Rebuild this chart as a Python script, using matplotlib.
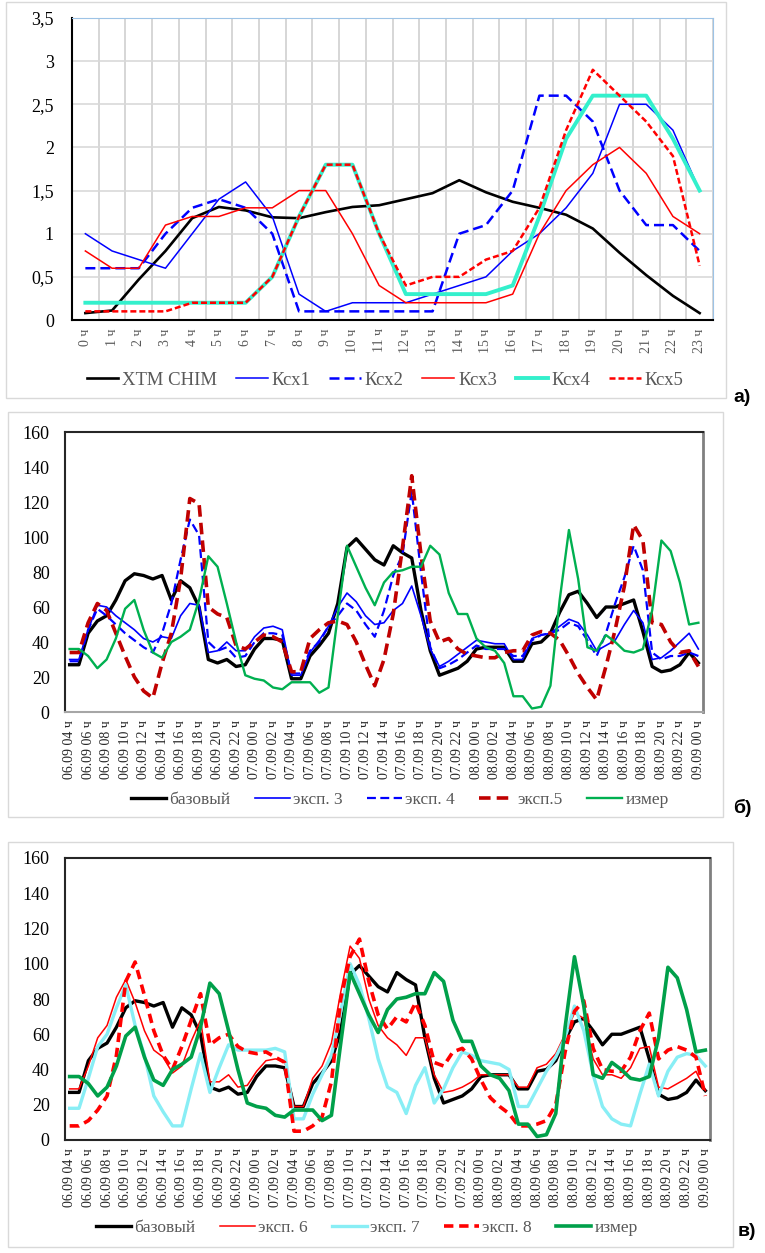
import numpy as np
import matplotlib.pyplot as plt
from matplotlib.patches import Rectangle

plt.rcParams['font.family'] = ['Liberation Serif', 'DejaVu Serif']

W, H = 765, 1253

# ---- panel a: hourly coefficients ----
hours_a = ['0 ч', '1 ч', '2 ч', '3 ч', '4 ч', '5 ч', '6 ч', '7 ч', '8 ч', '9 ч', '10 ч', '11 ч',
           '12 ч', '13 ч', '14 ч', '15 ч', '16 ч', '17 ч', '18 ч', '19 ч', '20 ч', '21 ч', '22 ч', '23 ч']
yticks_a = [0, 0.5, 1, 1.5, 2, 2.5, 3, 3.5]
ylabels_a = ['0', '0,5', '1', '1,5', '2', '2,5', '3', '3,5']
htm = [0.08, 0.11, 0.47, 0.8, 1.18, 1.31, 1.27, 1.19, 1.18, 1.25, 1.31, 1.33,
       1.4, 1.47, 1.62, 1.48, 1.37, 1.3, 1.22, 1.06, 0.78, 0.52, 0.28, 0.08]
ksx1 = [1.0, 0.8, 0.7, 0.6, 1.0, 1.4, 1.6, 1.2, 0.3, 0.1, 0.2, 0.2,
        0.2, 0.3, 0.4, 0.5, 0.8, 1.0, 1.3, 1.7, 2.5, 2.5, 2.2, 1.5]
ksx2 = [0.6, 0.6, 0.6, 1.0, 1.3, 1.4, 1.3, 1.0, 0.1, 0.1, 0.1, 0.1,
        0.1, 0.1, 1.0, 1.1, 1.5, 2.6, 2.6, 2.3, 1.5, 1.1, 1.1, 0.8]
ksx3 = [0.8, 0.6, 0.6, 1.1, 1.2, 1.2, 1.3, 1.3, 1.5, 1.5, 1.0, 0.4,
        0.2, 0.2, 0.2, 0.2, 0.3, 1.0, 1.5, 1.8, 2.0, 1.7, 1.2, 1.0]
ksx4 = [0.2, 0.2, 0.2, 0.2, 0.2, 0.2, 0.2, 0.5, 1.2, 1.8, 1.8, 1.0,
        0.3, 0.3, 0.3, 0.3, 0.4, 1.2, 2.1, 2.6, 2.6, 2.6, 2.1, 1.5]
ksx5 = [0.1, 0.1, 0.1, 0.1, 0.2, 0.2, 0.2, 0.5, 1.2, 1.8, 1.8, 1.0,
        0.4, 0.5, 0.5, 0.7, 0.8, 1.3, 2.2, 2.9, 2.6, 2.3, 1.9, 0.63]

# ---- panels b, c: hourly series 06.09 04 ч .. 09.09 00 ч ----
time_labels = ['06.09 04 ч', '06.09 06 ч', '06.09 08 ч', '06.09 10 ч', '06.09 12 ч', '06.09 14 ч',
               '06.09 16 ч', '06.09 18 ч', '06.09 20 ч', '06.09 22 ч',
               '07.09 00 ч', '07.09 02 ч', '07.09 04 ч', '07.09 06 ч', '07.09 08 ч', '07.09 10 ч',
               '07.09 12 ч', '07.09 14 ч', '07.09 16 ч', '07.09 18 ч', '07.09 20 ч', '07.09 22 ч',
               '08.09 00 ч', '08.09 02 ч', '08.09 04 ч', '08.09 06 ч', '08.09 08 ч', '08.09 10 ч',
               '08.09 12 ч', '08.09 14 ч', '08.09 16 ч', '08.09 18 ч', '08.09 20 ч', '08.09 22 ч',
               '09.09 00 ч']
yticks_bc = [0, 20, 40, 60, 80, 100, 120, 140, 160]

base = [27, 27, 45, 52, 55, 64, 75, 79, 78, 76, 78, 64, 75, 71, 60, 30, 28, 30, 26, 27,
        36, 42, 42, 41, 19, 19, 32, 38, 45, 62, 94, 99, 93, 87, 84, 95, 91, 88, 58, 35,
        21, 23, 25, 29, 36, 37, 37, 37, 29, 29, 39, 40, 45, 57, 67, 69, 62, 54, 60, 60,
        62, 64, 46, 26, 23, 24, 27, 34, 28]
meas = [36, 36, 32, 25, 30, 42, 59, 64, 47, 34, 31, 40, 43, 47, 64, 89, 83, 62, 40, 21,
        19, 18, 14, 13, 17, 17, 17, 11, 14, 55, 95, 83, 71, 61, 74, 80, 81, 83, 83, 95,
        90, 68, 56, 56, 42, 37, 35, 28, 9, 9, 2, 3, 15, 64, 104, 76, 37, 35, 44, 40,
        35, 34, 36, 58, 98, 92, 74, 50, 51]
exp3 = [30, 30, 47, 61, 60, 55, 51, 47, 42, 40, 43, 42, 55, 62, 61, 34, 35, 40, 35, 35,
        43, 48, 49, 47, 21, 21, 34, 41, 49, 60, 68, 63, 55, 50, 51, 58, 62, 72, 55, 36,
        26, 29, 33, 37, 41, 40, 39, 39, 30, 30, 42, 44, 45, 49, 53, 51, 44, 35, 38, 41,
        50, 58, 51, 30, 31, 35, 40, 45, 36]
exp4 = [29, 29, 47, 59, 55, 50, 45, 41, 37, 34, 45, 62, 87, 110, 101, 40, 35, 37, 31, 32,
        40, 45, 45, 44, 22, 22, 35, 40, 49, 55, 62, 58, 50, 43, 58, 78, 90, 126, 80, 37,
        25, 27, 30, 34, 38, 36, 36, 36, 32, 32, 41, 44, 45, 47, 51, 49, 41, 32, 45, 62,
        77, 95, 81, 34, 30, 32, 32, 34, 32]
exp5 = [34, 34, 51, 62, 58, 45, 32, 20, 12, 8, 28, 45, 76, 122, 119, 60, 56, 54, 38, 36,
        40, 44, 43, 40, 23, 23, 42, 47, 51, 52, 50, 40, 27, 15, 30, 56, 94, 135, 90, 52,
        40, 42, 36, 33, 32, 31, 31, 34, 35, 35, 44, 46, 45, 41, 32, 22, 14, 7, 26, 47,
        72, 107, 98, 51, 50, 40, 34, 35, 26]
exp6 = [29, 29, 42, 58, 65, 81, 91, 78, 62, 51, 47, 38, 42, 56, 68, 33, 33, 37, 30, 31,
        39, 45, 46, 45, 19, 19, 35, 42, 55, 84, 110, 103, 80, 65, 58, 54, 48, 58, 58, 37,
        27, 28, 30, 33, 37, 37, 37, 37, 30, 30, 41, 43, 49, 60, 72, 69, 46, 37, 37, 35,
        41, 52, 53, 30, 29, 32, 35, 39, 28]
exp7 = [18, 18, 35, 53, 60, 75, 88, 65, 48, 25, 16, 8, 8, 29, 49, 27, 41, 54, 51, 51,
        51, 51, 52, 50, 12, 12, 26, 37, 48, 73, 100, 88, 69, 46, 30, 27, 15, 31, 41, 21,
        29, 41, 50, 48, 45, 44, 43, 40, 19, 19, 29, 39, 47, 58, 76, 62, 37, 19, 12, 9,
        8, 26, 43, 25, 39, 47, 49, 48, 42]
exp8 = [8, 8, 11, 17, 25, 48, 90, 101, 82, 62, 48, 40, 53, 68, 83, 54, 58, 60, 53, 50,
        49, 50, 47, 44, 5, 5, 8, 13, 33, 80, 104, 114, 90, 71, 63, 70, 67, 78, 65, 44,
        42, 50, 52, 46, 34, 24, 19, 15, 8, 8, 9, 11, 20, 50, 73, 79, 52, 40, 39, 39,
        47, 62, 72, 46, 51, 53, 51, 47, 25]

fig = plt.figure(figsize=(W / 100, H / 100), dpi=100)


def px_axes(left, top, right, bottom):
    return fig.add_axes([left / W, 1 - bottom / H, (right - left) / W, (bottom - top) / H])


def px_frame(left, top, right, bottom):
    fig.add_artist(Rectangle((left / W, 1 - bottom / H), (right - left) / W, (bottom - top) / H,
                             transform=fig.transFigure, fill=False, ec='#D9D9D9', lw=1))


def panel_label(x, y, s):
    fig.text(x / W, 1 - y / H, s, family='Liberation Sans', fontweight='bold', fontsize=14,
             ha='left', va='center')


# ---------- a) ----------
px_frame(6, 2, 726, 398)
ax = px_axes(72, 18, 713, 320)
xa = np.arange(len(hours_a))
ax.plot(xa, htm, color='black', lw=1.9, label='ХТМ СНІМ')
ax.plot(xa, ksx1, color='#0000FF', lw=1.1, label='Ксх1')
ax.plot(xa, ksx2, color='#0000FF', lw=1.8, ls=(0, (4, 2)), label='Ксх2')
ax.plot(xa, ksx3, color='#FF0000', lw=1.1, label='Ксх3')
ax.plot(xa, ksx4, color='#33F0CC', lw=2.8, label='Ксх4')
ax.plot(xa, ksx5, color='#FF0000', lw=1.8, ls=(0, (2.4, 1.2)), label='Ксх5')
ax.set_xlim(-0.5, len(hours_a) - 0.5)
ax.set_ylim(0, 3.5)
ax.set_yticks(yticks_a)
ax.set_yticklabels(ylabels_a, fontsize=13)
ax.set_xticks(xa)
ax.set_xticklabels(hours_a, rotation=90, fontsize=10, color='#595959')
ax.set_xticks(np.arange(-0.5, len(hours_a)), minor=True)
ax.tick_params(which='both', length=0)
ax.tick_params(axis='y', pad=13)
ax.tick_params(axis='x', pad=6)
ax.grid(which='minor', axis='x', color='#D0D0D0', lw=1.2)
ax.grid(which='major', axis='y', color='#D9D9D9', lw=1.2)
ax.set_axisbelow(True)
for side in ['top', 'right']:
    ax.spines[side].set_color('#9DC3E6')
for side in ['left', 'bottom']:
    ax.spines[side].set_color('black')
    ax.spines[side].set_linewidth(1.5)
ax.legend(loc='center', bbox_to_anchor=(385 / W, 1 - 380 / H), bbox_transform=fig.transFigure,
          ncol=6, frameon=False, fontsize=13.5, handlelength=1.7, handletextpad=0.2,
          columnspacing=1.0, labelcolor='#595959')
panel_label(733, 398, 'а)')

# ---------- б) ----------
px_frame(8, 412, 723, 817)
ax = px_axes(65, 432, 703, 712)
xb = np.arange(len(base))
ax.plot(xb, base, color='black', lw=2.4, label='базовый')
ax.plot(xb, exp3, color='#0000FF', lw=1.2, label='эксп. 3')
ax.plot(xb, exp4, color='#0000FF', lw=1.6, ls=(0, (4, 2)), label='эксп. 4')
ax.plot(xb, exp5, color='#C00000', lw=2.6, ls=(0, (3.2, 1.7)), label='эксп.5')
ax.plot(xb, meas, color='#00B050', lw=1.7, label='измер')
ax.set_xlim(-0.5, len(base) - 0.5)
ax.set_ylim(0, 160)
ax.set_yticks(yticks_bc)
ax.tick_params(axis='y', labelsize=13, pad=11)
ax.set_xticks(xb[::2])
ax.set_xticklabels(time_labels, rotation=90, fontsize=10, color='#262626')
ax.tick_params(which='both', length=0)
ax.tick_params(axis='x', pad=6)
for side in ['left', 'top']:
    ax.spines[side].set_color('#262626')
    ax.spines[side].set_linewidth(1.5)
ax.spines['right'].set_color('#808080')
ax.spines['right'].set_linewidth(2)
ax.spines['bottom'].set_color('#A6A6A6')
ax.spines['bottom'].set_linewidth(1.5)
ax.legend(loc='center', bbox_to_anchor=(400 / W, 1 - 800 / H), bbox_transform=fig.transFigure,
          ncol=5, frameon=False, fontsize=12.5, handlelength=2.0, handletextpad=0.2,
          columnspacing=1.4, labelcolor='#595959')
panel_label(733, 808, 'б)')

# ---------- в) ----------
px_frame(8, 842, 733, 1247)
ax = px_axes(65, 858, 710, 1140)
ax.plot(xb, base, color='black', lw=2.4, label='базовый')
ax.plot(xb, exp6, color='#FF0000', lw=1.1, label='эксп. 6')
ax.plot(xb, exp7, color='#88EEF5', lw=2.4, label='эксп. 7')
ax.plot(xb, exp8, color='#FF0000', lw=2.6, ls=(0, (2.6, 1.6)), label='эксп. 8')
ax.plot(xb, meas, color='#00A04A', lw=2.6, label='измер')
ax.set_xlim(-0.5, len(base) - 0.5)
ax.set_ylim(0, 160)
ax.set_yticks(yticks_bc)
ax.tick_params(axis='y', labelsize=13, pad=11)
ax.set_xticks(xb[::2])
ax.set_xticklabels(time_labels, rotation=90, fontsize=10, color='#262626')
ax.tick_params(which='both', length=0)
ax.tick_params(axis='x', pad=6)
for side in ['left', 'top', 'bottom']:
    ax.spines[side].set_color('#262626')
    ax.spines[side].set_linewidth(1.5)
ax.spines['right'].set_color('#808080')
ax.spines['right'].set_linewidth(2)
ax.legend(loc='center', bbox_to_anchor=(367 / W, 1 - 1228 / H), bbox_transform=fig.transFigure,
          ncol=5, frameon=False, fontsize=12.5, handlelength=2.0, handletextpad=0.2,
          columnspacing=1.4, labelcolor='#595959')
panel_label(738, 1232, 'в)')

fig.savefig('out.png', dpi=100)
